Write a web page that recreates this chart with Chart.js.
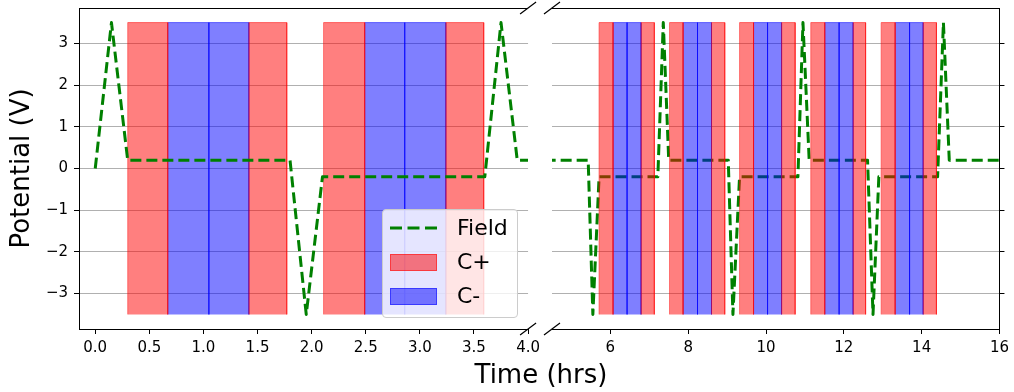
<!DOCTYPE html>
<html>
<head>
<meta charset="utf-8">
<script src="https://cdn.jsdelivr.net/npm/chart.js@4.4.1/dist/chart.umd.min.js"></script>
<style>
  body { margin: 0; background: #fff; font-family: "DejaVu Sans", sans-serif; }
  #wrap { position: relative; width: 1014px; height: 392px; overflow: hidden; }
  #leftChart { position: absolute; left: 0; top: 0; }
  #rightChart { position: absolute; left: 540px; top: 0; }
  #xTitle { position: absolute; left: 0; width: 1082px; top: 361px; text-align: center;
            font-size: 26px; line-height: 26px; color: #000; }
  #legend { position: absolute; left: 382px; top: 209px; width: 136px; height: 109px;
            box-sizing: border-box; border: 1px solid #cccccc; border-radius: 4px;
            background: rgba(255, 255, 255, 0.8); }
  #legend .handle { position: absolute; left: 7px; width: 47px; }
  #legend .patch { height: 17px; box-sizing: border-box; border: 1px solid; }
  #legend .text { position: absolute; left: 74px; font-size: 22px; line-height: 22px; color: #000; }
</style>
</head>
<body>
<div id="wrap">
  <canvas id="leftChart" width="545" height="392"></canvas>
  <canvas id="rightChart" width="474" height="392"></canvas>
  <div id="xTitle">Time (hrs)</div>
  <div id="legend"></div>
</div>
<script>
// field potential trace: time (hrs) and volts
const fieldTime = [0, 0.15, 0.3, 1.8, 1.95, 2.1, 3.6, 3.75, 3.9,
  5.43, 5.55, 5.71, 7.22, 7.36, 7.5, 9.03, 9.15, 9.32,
  10.82, 10.95, 11.11, 12.61, 12.75, 12.9, 14.41, 14.56, 14.71, 16];
const fieldVolts = [0, 3.5, 0.2, 0.2, -3.5, -0.2, -0.2, 3.5, 0.2,
  0.2, -3.5, -0.2, -0.2, 3.5, 0.2, 0.2, -3.5, -0.2,
  -0.2, 3.5, 0.2, 0.2, -3.5, -0.2, -0.2, 3.5, 0.2, 0.2];

// charging windows (hrs)
const cPlusStart  = [0.3, 1.42, 2.11, 3.24, 5.71, 6.79, 7.52, 8.60, 9.32, 10.40, 11.15, 12.24, 12.96, 14.04];
const cPlusEnd    = [0.67, 1.77, 2.49, 3.59, 6.07, 7.13, 7.87, 8.94, 9.68, 10.75, 11.51, 12.56, 13.32, 14.38];
const cMinusStart = [0.67, 1.05, 2.49, 2.86, 6.07, 6.43, 7.87, 8.24, 9.68, 10.04, 11.51, 11.88, 13.32, 13.69];
const cMinusEnd   = [1.05, 1.42, 2.86, 3.24, 6.43, 6.79, 8.24, 8.60, 10.04, 10.40, 11.88, 12.24, 13.69, 14.04];
const windowLow = -3.5;
const windowHigh = 3.5;

const seriesLabels = ['Field', 'C+', 'C-'];
const leftTicks = [0, 0.5, 1, 1.5, 2, 2.5, 3, 3.5, 4];
const rightTicks = [6, 8, 10, 12, 14, 16];
const voltTicks = [-3, -2, -1, 0, 1, 2, 3];

const fieldColor = '#008000';
const plusColor = 'rgba(255, 0, 0, 0.5)';
const minusColor = 'rgba(0, 0, 255, 0.5)';

Chart.defaults.font.family = '"DejaVu Sans", sans-serif';
Chart.defaults.color = '#000';

// each window is an outlined box, separated from the next by a gap point
function windowPoints(starts, ends) {
    let pts = [];
    starts.forEach((s, i) => {
        const e = ends[i];
        pts.push({x: s, y: windowLow}, {x: s, y: windowHigh},
                 {x: e, y: windowHigh}, {x: e, y: windowLow}, {x: e, y: null});
    });
    return pts;
}

function buildDatasets(fieldOrder) {
    return [
        {
            label: seriesLabels[0],
            data: fieldTime.map((t, i) => ({x: t, y: fieldVolts[i]})),
            borderColor: fieldColor,
            borderWidth: 3,
            borderDash: [11, 5],
            borderJoinStyle: 'round',
            pointRadius: 0,
            fill: false,
            order: fieldOrder
        },
        {
            label: seriesLabels[1],
            data: windowPoints(cPlusStart, cPlusEnd),
            borderColor: plusColor,
            backgroundColor: plusColor,
            borderWidth: 1,
            pointRadius: 0,
            fill: {value: windowLow},
            order: 0
        },
        {
            label: seriesLabels[2],
            data: windowPoints(cMinusStart, cMinusEnd),
            borderColor: minusColor,
            backgroundColor: minusColor,
            borderWidth: 1,
            pointRadius: 0,
            fill: {value: windowLow},
            order: 0
        }
    ];
}

function voltAxis(side) {
    return {
        position: side,
        min: -3.85,
        max: 3.85,
        afterBuildTicks: s => { s.ticks = voltTicks.map(v => ({value: v})); },
        ticks: {
            display: side === 'left',
            font: {size: 15},
            padding: 6,
            callback: v => (v < 0 ? '\u2212' + Math.abs(v) : String(v))
        },
        grid: {color: '#b0b0b0', lineWidth: 1, tickColor: '#000', tickLength: 5},
        border: {color: '#000', width: 1},
        title: {
            display: side === 'left',
            text: 'Potential (V)',
            font: {size: 26},
            padding: {top: 7, bottom: 0}
        },
        afterFit: s => {
            s.width = side === 'left' ? 79 : 12;
            // labels sit well inside the plot, no extra room needed above/below
            s.paddingTop = 0;
            s.paddingBottom = 0;
        }
    };
}

function timeAxis(min, max, tickValues, fmt) {
    return {
        type: 'linear',
        min: min,
        max: max,
        afterBuildTicks: s => { s.ticks = tickValues.map(v => ({value: v})); },
        ticks: {font: {size: 15}, padding: 5, maxRotation: 0, autoSkip: false, callback: fmt},
        grid: {drawOnChartArea: false, tickColor: '#000', tickLength: 5},
        border: {color: '#000', width: 1},
        afterFit: s => { s.height = 63; }
    };
}

// top spine, outer side spine and the diagonal marks where the time axis is cut
const spinePlugin = {
    id: 'spines',
    afterDraw(chart, args, opts) {
        const {ctx, chartArea: a} = chart;
        ctx.save();
        ctx.strokeStyle = '#000';
        ctx.lineWidth = 1;
        ctx.beginPath();
        ctx.moveTo(a.left, Math.round(a.top) + 0.5);
        ctx.lineTo(a.right, Math.round(a.top) + 0.5);
        if (opts.side === 'left') {
            const rx = Math.round(a.right) + 0.5;
            ctx.moveTo(rx, a.top);
            ctx.lineTo(rx, a.bottom);
        }
        ctx.stroke();
        ctx.lineWidth = 1.2;
        ctx.beginPath();
        const bx = opts.side === 'right' ? a.right : a.left;
        [a.top, a.bottom].forEach(y => {
            ctx.moveTo(bx - 8, y + 6);
            ctx.lineTo(bx + 8, y - 6);
        });
        ctx.stroke();
        ctx.restore();
    }
};

function makeChart(id, side, xAxis, fieldOrder, padding) {
    const scales = {x: xAxis};
    scales.y = voltAxis(side === 'right' ? 'left' : 'right');
    return new Chart(document.getElementById(id), {
        type: 'line',
        data: {datasets: buildDatasets(fieldOrder)},
        options: {
            responsive: false,
            animation: false,
            layout: {padding: padding},
            plugins: {
                legend: {display: false},
                tooltip: {enabled: false},
                spines: {side: side}
            },
            scales: scales
        },
        plugins: [spinePlugin]
    });
}

// left panel: field drawn over the windows; right panel: under them
makeChart('leftChart', 'right', timeAxis(-0.15, 4.0, leftTicks, v => v.toFixed(1)), -1,
          {left: 0, top: 8, right: 15, bottom: 0});
makeChart('rightChart', 'left', timeAxis(4.5, 16, rightTicks, v => String(v)), 1,
          {left: 12, top: 8, right: 0, bottom: 0});

// legend
const legendBox = document.getElementById('legend');
const rowTop = [18, 52, 86];
legendBox.innerHTML =
    `<svg class="handle" style="top:${rowTop[0] - 4}px" width="47" height="8">` +
    `<line x1="0" y1="4" x2="47" y2="4" stroke="${fieldColor}" stroke-width="3" stroke-dasharray="12 5.5"/></svg>` +
    `<div class="handle patch" style="top:${rowTop[1] - 8}px;background:${plusColor};border-color:${plusColor}"></div>` +
    `<div class="handle patch" style="top:${rowTop[2] - 8}px;background:${minusColor};border-color:${minusColor}"></div>` +
    seriesLabels.map((l, i) => `<div class="text" style="top:${rowTop[i] - 11}px">${l}</div>`).join('');
</script>
</body>
</html>
